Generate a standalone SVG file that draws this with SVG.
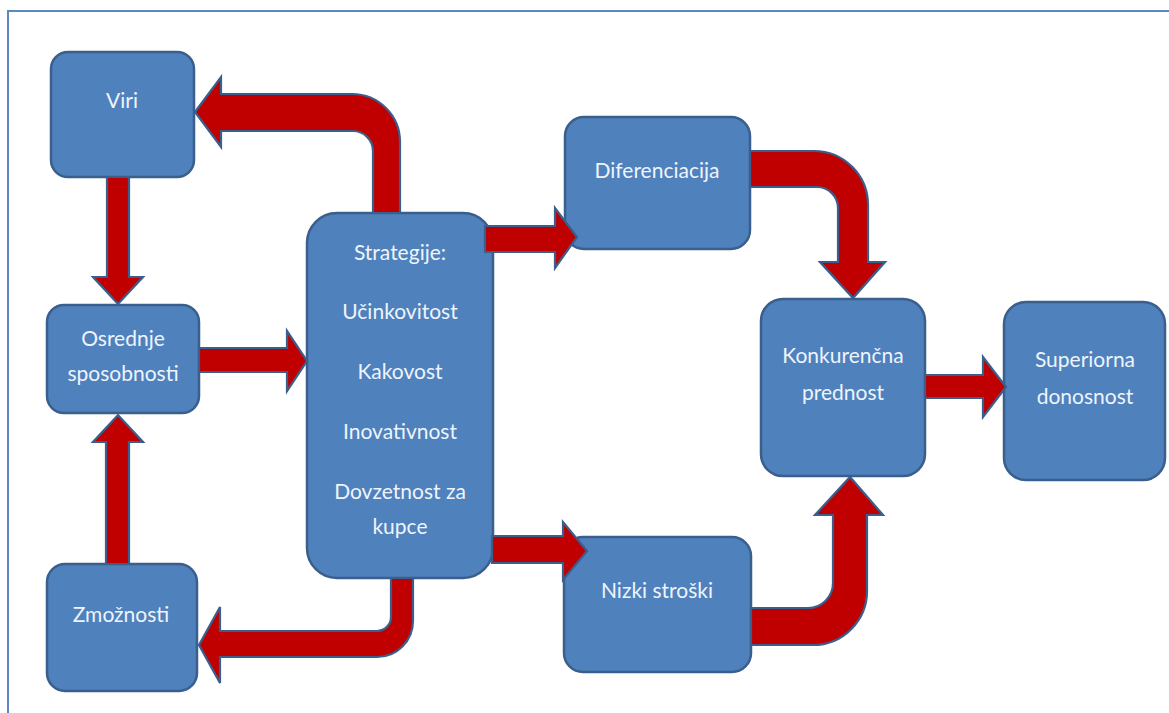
<svg xmlns="http://www.w3.org/2000/svg" width="1169" height="713" viewBox="0 0 1169 713">
  <style>
    .box { fill: #4F81BD; stroke: #3A5F8C; stroke-width: 2.5; }
    .arrow { fill: #C00000; stroke: #3A5F8C; stroke-width: 2.2; stroke-linejoin: miter; }
    .label { font-family: Lato, "Liberation Sans", sans-serif; font-size: 21px; fill: #EEF4FC; text-anchor: middle; }
    .frame { fill: none; stroke: #5B87C2; stroke-width: 2; }
  </style>

  <rect x="0" y="0" width="1169" height="713" fill="#FFFFFF"/>
  <!-- page frame -->
  <path class="frame" d="M8,713 L8,11 L1169,11"/>

  <g id="nodes">
    <g id="viri">
      <rect class="box" x="51" y="52" width="143" height="125" rx="17"/>
      <text class="label" x="122" y="108">Viri</text>
    </g>
    <g id="osrednje">
      <rect class="box" x="47" y="305" width="152" height="108" rx="17"/>
      <text class="label" x="123" y="346">Osrednje</text>
      <text class="label" x="123" y="381">sposobnosti</text>
    </g>
    <g id="zmoznosti">
      <rect class="box" x="47" y="564" width="150" height="127" rx="18"/>
      <text class="label" x="121" y="622">Zmožnosti</text>
    </g>
    <g id="strategije">
      <rect class="box" x="307" y="213" width="186" height="365" rx="30"/>
      <text class="label" x="400" y="260">Strategije:</text>
      <text class="label" x="400" y="319">Učinkovitost</text>
      <text class="label" x="400" y="379">Kakovost</text>
      <text class="label" x="400" y="439">Inovativnost</text>
      <text class="label" x="400" y="499">Dovzetnost za</text>
      <text class="label" x="400" y="534">kupce</text>
    </g>
    <g id="diferenciacija">
      <rect class="box" x="565" y="117" width="185" height="132" rx="19"/>
      <text class="label" x="657" y="178">Diferenciacija</text>
    </g>
    <g id="nizki-stroski">
      <rect class="box" x="564" y="537" width="187" height="135" rx="19"/>
      <text class="label" x="657" y="598">Nizki stroški</text>
    </g>
    <g id="konkurencna">
      <rect class="box" x="761" y="299" width="164" height="177" rx="22"/>
      <text class="label" x="843" y="363">Konkurenčna</text>
      <text class="label" x="843" y="400">prednost</text>
    </g>
    <g id="superiorna">
      <rect class="box" x="1004" y="302" width="161" height="178" rx="22"/>
      <text class="label" x="1085" y="367">Superiorna</text>
      <text class="label" x="1085" y="404">donosnost</text>
    </g>
  </g>

  <g id="connectors">
    <!-- Viri down to Osrednje sposobnosti -->
    <path class="arrow" d="M107,177 L129,177 L129,277 L143,277 L118,304 L93,277 L107,277 Z"/>
    <!-- Zmožnosti up to Osrednje sposobnosti -->
    <path class="arrow" d="M106,564 L106,442 L93,442 L118,415 L143,442 L129,442 L129,564 Z"/>
    <!-- Osrednje sposobnosti to Strategije -->
    <path class="arrow" d="M199,348 L287,348 L287,331 L307,361 L287,391 L287,372 L199,372 Z"/>
    <!-- Strategije bending up-left to Viri -->
    <path class="arrow" d="M195,112 L221,77 L221,94 L352,94 A48,48 0 0 1 400,142 L400,213 L373,213 L373,151 A20,20 0 0 0 353,131 L221,131 L221,147 Z"/>
    <!-- Strategije bending down-left to Zmožnosti -->
    <path class="arrow" d="M413,578 L413,621 A36,36 0 0 1 377,657 L220,657 L220,683 L199,645 L220,607 L220,631 L377,631 A14,14 0 0 0 391,617 L391,578 Z"/>
    <!-- Strategije to Diferenciacija -->
    <path class="arrow" d="M485,226 L555,226 L555,208 L577,237 L555,268 L555,252 L485,252 Z"/>
    <!-- Strategije to Nizki stroški -->
    <path class="arrow" d="M492,536 L563,536 L563,522 L587,551 L563,580 L563,563 L492,563 Z"/>
    <!-- Diferenciacija bending down to Konkurenčna prednost -->
    <path class="arrow" d="M750,151 L814,151 A54,54 0 0 1 868,205 L868,262 L885,262 L853,298 L820,262 L838,262 L838,208 A21,21 0 0 0 817,187 L750,187 Z"/>
    <!-- Nizki stroški bending up to Konkurenčna prednost -->
    <path class="arrow" d="M751,608 L808,608 A25,25 0 0 0 833,583 L833,515 L815,515 L850,477 L883,515 L867,515 L867,591 A54,54 0 0 1 813,645 L751,645 Z"/>
    <!-- Konkurenčna prednost to Superiorna donosnost -->
    <path class="arrow" d="M925,375 L983,375 L983,357 L1006,387 L983,417 L983,398 L925,398 Z"/>
  </g>
</svg>
